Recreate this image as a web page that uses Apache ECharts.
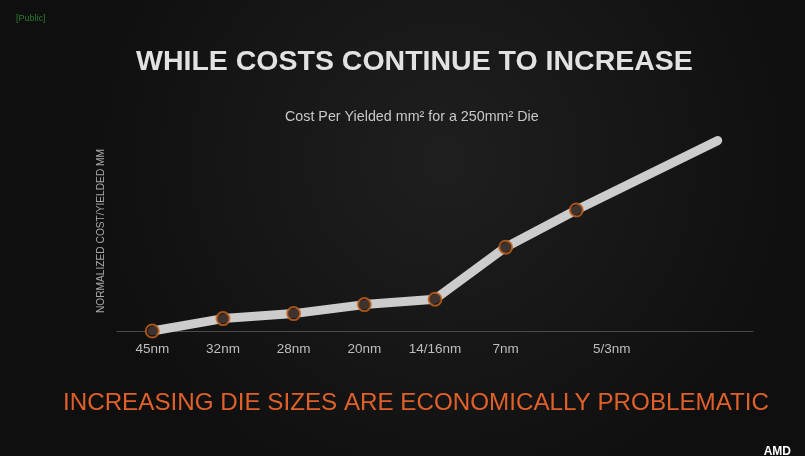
<!DOCTYPE html>
<html><head><meta charset="utf-8">
<script src="https://cdn.jsdelivr.net/npm/echarts@6/dist/echarts.min.js"></script>
<style>html,body{margin:0;padding:0;background:#141414}#c{width:805px;height:456px}</style>
</head><body><div id="c"></div>
<script>
// Data
const nodeLabels = ['45nm','32nm','28nm','20nm','14/16nm','7nm','5/3nm'];
const labelPositions = [0,1,2,3,4,5,6.5];
const pointPositions = [0,1,2,3,4,5,6];
const pointValues = [0,6.2,8.7,13.2,15.9,41.9,60.5];
const trendEndPosition = 8;
const trendEndValue = 95.2;

const labelMap = {};
labelPositions.forEach((p,i)=>{labelMap[p.toFixed(1)] = nodeLabels[i];});
const lineData = pointPositions.map((p,i)=>[p,pointValues[i]]).concat([[trendEndPosition,trendEndValue]]);
const markerData = pointPositions.map((p,i)=>[p,pointValues[i]]);

const chart = echarts.init(document.getElementById('c'));
chart.setOption({
  backgroundColor: {type:'radial', x:0.55, y:0.35, r:0.8, colorStops:[{offset:0,color:'#1f1f1f'},{offset:1,color:'#0f0f0f'}]},
  animation:false,
  title:[
    {text:'WHILE COSTS CONTINUE TO INCREASE', left:131, top:43, textStyle:{color:'#e2e2e2', fontFamily:'Liberation Sans', fontWeight:'bold', fontSize:28.5}},
    {text:'Cost Per Yielded mm² for a 250mm² Die', left:280, top:105, textStyle:{color:'#c8c8c8', fontFamily:'Liberation Sans', fontWeight:'normal', fontSize:14.3}},
    {text:'INCREASING DIE SIZES ARE ECONOMICALLY PROBLEMATIC', left:58, top:386, textStyle:{color:'#e0602a', fontFamily:'Liberation Sans', fontWeight:'normal', fontSize:24.2}},
    {text:'[Public]', left:11, top:9, textStyle:{color:'#2f7a2f', fontFamily:'Liberation Sans', fontWeight:'normal', fontSize:9}},
    {text:'AMD', right:9, top:441, textStyle:{color:'#ffffff', fontFamily:'Liberation Sans', fontWeight:'bold', fontSize:12}}
  ],
  grid:{left:117, right:52, top:131, bottom:125, containLabel:false},
  xAxis:{
    type:'value', min:-0.5, max:8.5, interval:0.5,
    splitLine:{show:false}, axisTick:{show:false},
    axisLine:{show:true, lineStyle:{color:'#4a4a4a', width:1}},
    axisLabel:{color:'#bdbdbd', fontFamily:'Liberation Sans', fontSize:13.5, margin:11,
      formatter:function(v){return labelMap[Number(v).toFixed(1)] || '';}}
  },
  yAxis:{
    type:'value', min:0, max:100,
    splitLine:{show:false}, axisTick:{show:false}, axisLabel:{show:false},
    axisLine:{show:false},
    name:'NORMALIZED COST/YIELDED MM', nameLocation:'middle', nameRotate:90, nameGap:11,
    nameTextStyle:{color:'#a8a8a8', fontFamily:'Liberation Sans', fontSize:10.2}
  },
  series:[
    {type:'line', data:lineData, symbol:'none', lineStyle:{color:'#cccccc', width:9, cap:'round', join:'round'}, z:2},
    {type:'scatter', data:markerData, symbol:'circle', symbolSize:13,
      itemStyle:{color:'#1a0d06', borderColor:'#c8641e', borderWidth:2}, z:3}
  ]
});
</script></body></html>
